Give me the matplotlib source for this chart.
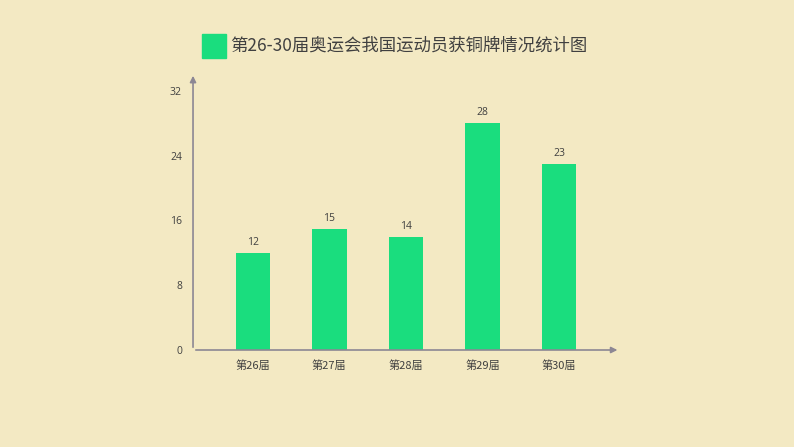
import matplotlib
matplotlib.use("Agg")
import matplotlib.pyplot as plt
import matplotlib.patches as mpatches

plt.rcParams['font.family'] = ['Noto Sans CJK SC', 'DejaVu Sans']

# data
jieci = ['第26届', '第27届', '第28届', '第29届', '第30届']
tongpai = [12, 15, 14, 28, 23]
yticks = [0, 8, 16, 24, 32]
title = '第26-30届奥运会我国运动员获铜牌情况统计图'

bg = '#F3E9C3'
green = '#1ADD7E'
axis_c = '#8C8794'
text_c = '#404040'
num_font = ['Open Sans', 'Noto Sans CJK SC']

fig = plt.figure(figsize=(7.94, 4.47), dpi=100, facecolor=bg)
ax = fig.add_axes([0.2431, 0.217, 0.538, 0.6197])
ax.set_facecolor(bg)

x = list(range(len(jieci)))
bars = ax.bar(x, tongpai, width=0.45, color=green, zorder=2)
for b, v in zip(bars, tongpai):
    ax.text(b.get_x() + b.get_width() / 2, v + 0.6, str(v), ha='center', va='bottom',
            fontsize=7.5, color=text_c, family=num_font)

ax.set_xlim(-0.78, 4.8)
ax.set_ylim(0, 34.2)
ax.set_xticks(x)
ax.set_xticklabels(jieci, fontsize=8, color=text_c)
ax.set_yticks(yticks)
ax.set_yticklabels([str(t) for t in yticks], fontsize=7.5, color=text_c, family=num_font)
ax.tick_params(length=0)
ax.tick_params(axis='y', pad=8)
ax.tick_params(axis='x', pad=7)
for s in ax.spines.values():
    s.set_visible(False)

# axes with arrows
ax.annotate('', xy=(0, 1.0), xytext=(0, 0), xycoords='axes fraction',
            arrowprops=dict(arrowstyle='-|>', color=axis_c, lw=1.2, mutation_scale=9))
ax.annotate('', xy=(1.0, 0), xytext=(0, 0), xycoords='axes fraction',
            arrowprops=dict(arrowstyle='-|>', color=axis_c, lw=1.2, mutation_scale=9))

# legend style title
fig.patches.append(mpatches.Rectangle((202 / 794, 1 - 58 / 447), 24 / 794, 24 / 447,
                                      transform=fig.transFigure, color=green))
fig.text(230 / 794, 1 - 46 / 447, title, fontsize=12.5, color=text_c, ha='left', va='center')

fig.savefig('out.png', dpi=100, facecolor=bg)
